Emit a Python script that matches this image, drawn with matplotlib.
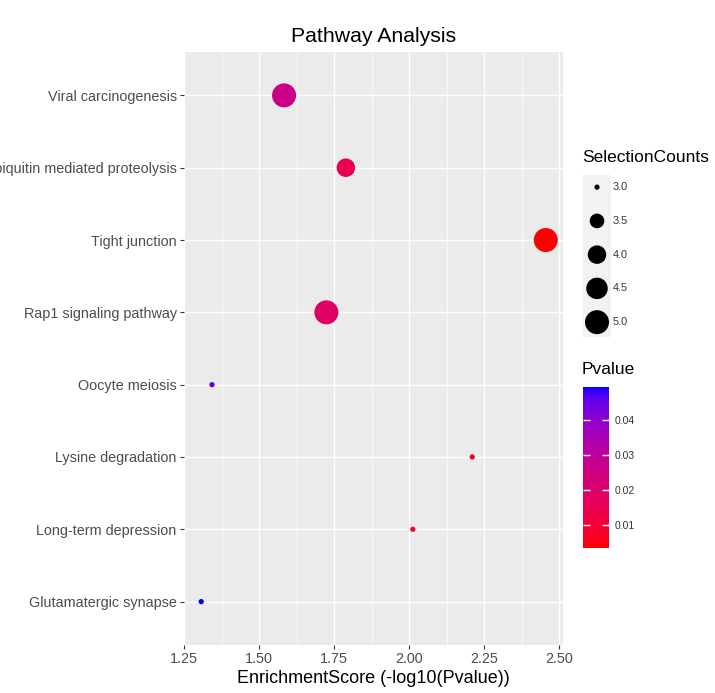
import numpy as np
import matplotlib
matplotlib.use('Agg')
import matplotlib.pyplot as plt
from matplotlib.colors import ListedColormap

plt.rcParams['font.family'] = ['Liberation Sans', 'DejaVu Sans']

# data
pathways = ['Viral carcinogenesis', 'Ubiquitin mediated proteolysis', 'Tight junction',
            'Rap1 signaling pathway', 'Oocyte meiosis', 'Lysine degradation',
            'Long-term depression', 'Glutamatergic synapse']
scores = [1.583, 1.789, 2.455, 1.724, 1.343, 2.210, 2.012, 1.307]
pvalues = [0.0261, 0.0163, 0.0035, 0.0189, 0.0454, 0.0062, 0.0097, 0.0493]
counts = [5, 4, 5, 5, 3, 3, 3, 3]
size_breaks = [3.0, 3.5, 4.0, 4.5, 5.0]
pvalue_ticks = [0.01, 0.02, 0.03, 0.04]
x_ticks = [1.25, 1.50, 1.75, 2.00, 2.25, 2.50]


# ggplot-like red -> blue gradient, interpolated in Lab space
def srgb_to_lab(rgb):
    rgb = np.asarray(rgb, float)
    lin = np.where(rgb <= 0.04045, rgb / 12.92, ((rgb + 0.055) / 1.055) ** 2.4)
    m = np.array([[0.4124, 0.3576, 0.1805],
                  [0.2126, 0.7152, 0.0722],
                  [0.0193, 0.1192, 0.9505]])
    xyz = m @ lin / np.array([0.95047, 1.0, 1.08883])
    f = np.where(xyz > 0.008856, np.cbrt(xyz), 7.787 * xyz + 16 / 116)
    return np.array([116 * f[1] - 16, 500 * (f[0] - f[1]), 200 * (f[1] - f[2])])


def lab_to_srgb(lab):
    L, a, b = lab
    fy = (L + 16) / 116
    fx = fy + a / 500
    fz = fy - b / 200
    f = np.array([fx, fy, fz])
    xyz = np.where(f ** 3 > 0.008856, f ** 3, (f - 16 / 116) / 7.787)
    xyz = xyz * np.array([0.95047, 1.0, 1.08883])
    m = np.array([[3.2406, -1.5372, -0.4986],
                  [-0.9689, 1.8758, 0.0415],
                  [0.0557, -0.2040, 1.0570]])
    lin = np.clip(m @ xyz, 0, 1)
    rgb = np.where(lin <= 0.0031308, 12.92 * lin, 1.055 * lin ** (1 / 2.4) - 0.055)
    return np.clip(rgb, 0, 1)


lab_lo = srgb_to_lab([1, 0, 0])
lab_hi = srgb_to_lab([0, 0, 1])
cmap = ListedColormap([lab_to_srgb(lab_lo * (1 - t) + lab_hi * t) for t in np.linspace(0, 1, 256)])


def point_area(c):
    # ggplot scale_size: area palette, range 1..6
    lo, hi = min(counts), max(counts)
    gg = 1 + 5 * np.sqrt((np.asarray(c, float) - lo) / (hi - lo))
    d_px = 1.5 + 3.75 * gg
    return (d_px * 0.72) ** 2


W, H = 715, 693
fig = plt.figure(figsize=(W / 100, H / 100), dpi=100)
ax = fig.add_axes([184 / W, 1 - 645 / H, (563 - 184) / W, (645 - 52) / H])
ax.set_facecolor('#EBEBEB')

ypos = np.arange(len(pathways))
sc = ax.scatter(scores, ypos, s=point_area(counts), c=pvalues, cmap=cmap,
                vmin=min(pvalues), vmax=max(pvalues), linewidths=0, zorder=3)

ax.set_ylim(len(pathways) - 0.4, -0.6)
ax.set_yticks(ypos)
ax.set_yticklabels(pathways)
ax.set_xticks(x_ticks)
ax.set_xticklabels([f'{v:.2f}' for v in x_ticks])
ax.set_xticks([(a + b) / 2 for a, b in zip(x_ticks[:-1], x_ticks[1:])], minor=True)
ax.margins(x=0.05)

ax.grid(which='major', color='white', lw=1.0)
ax.grid(which='minor', axis='x', color='white', lw=0.5)
ax.set_axisbelow(True)
for s in ax.spines.values():
    s.set_visible(False)
ax.tick_params(which='major', length=2.75, width=0.8, color='#333333',
               labelcolor='#4D4D4D', labelsize=10.4, pad=2.5)
ax.tick_params(which='minor', length=0)

ax.set_title('Pathway Analysis', fontsize=15.3, pad=7)
ax.set_xlabel('EnrichmentScore (-log10(Pvalue))', fontsize=13, labelpad=3)

# size legend
lax = fig.add_axes([583 / W, 1 - 337 / H, 28 / W, (337 - 175) / H])
lax.set_facecolor('#F2F2F2')
rows = np.arange(len(size_breaks))
lax.scatter(np.full(len(rows), 0.5), rows, s=point_area(size_breaks), color='black', linewidths=0)
lax.set_xlim(0, 1)
lax.set_ylim(len(rows) - 0.56, -0.36)
lax.set_xticks([])
lax.set_yticks([])
for s in lax.spines.values():
    s.set_visible(False)
for r, b in zip(rows, size_breaks):
    lax.text(1.06, r, f'{b:.1f}', transform=lax.get_yaxis_transform(),
             va='center', ha='left', fontsize=7.8, color='#333333')
fig.text(582 / W, 1 - 157 / H, 'SelectionCounts', va='center', ha='left', fontsize=12.5)

# colour bar
cax = fig.add_axes([583 / W, 1 - 548 / H, 26 / W, 161 / H])
cb = fig.colorbar(sc, cax=cax, ticks=pvalue_ticks)
cb.outline.set_visible(False)
cb.set_ticklabels([f'{v:.2f}' for v in pvalue_ticks])
cax.tick_params(direction='in', color='white', length=5, width=1, left=True, right=True,
                labelcolor='#333333', labelsize=7.5, pad=4)
fig.text(582 / W, 1 - 370 / H, 'Pvalue', va='center', ha='left', fontsize=12.5)

fig.savefig('out.png', dpi=100, facecolor='white')
